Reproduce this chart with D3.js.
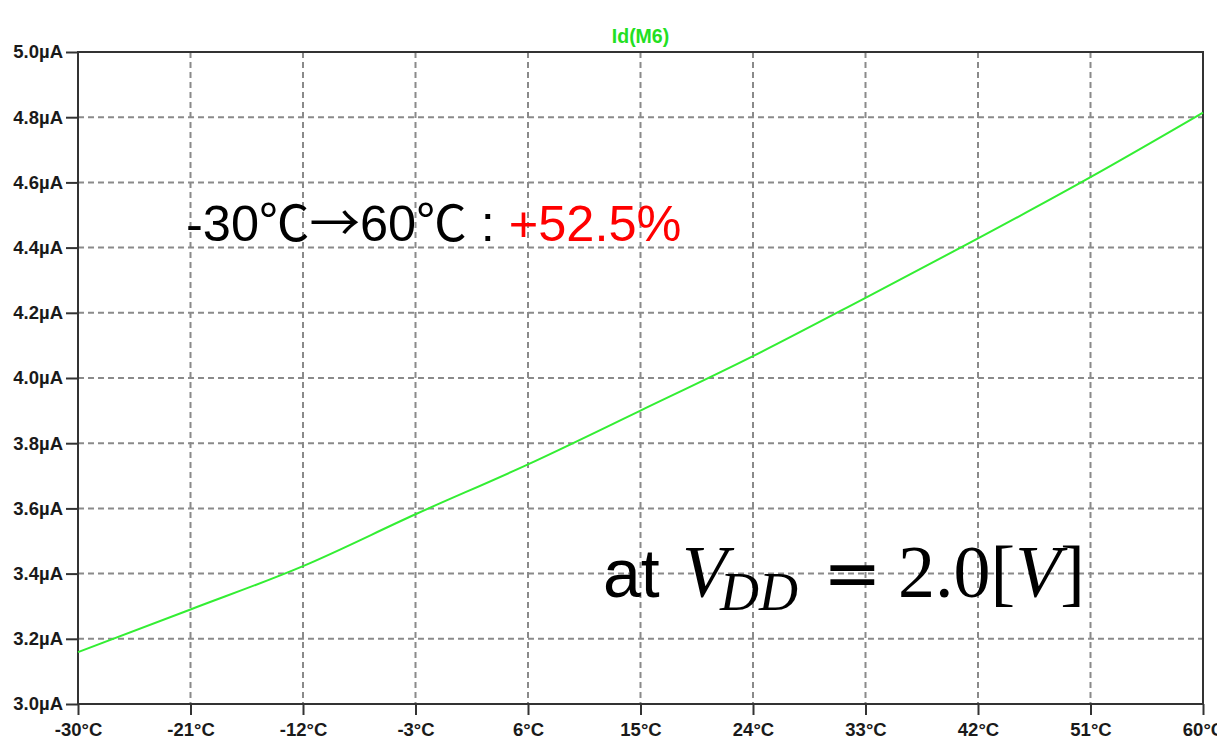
<!DOCTYPE html>
<html><head><meta charset="utf-8">
<script src="https://cdn.jsdelivr.net/npm/d3@7"></script>
<style>
html,body{margin:0;padding:0;background:#fff;}
svg{display:block;}
</style></head>
<body>
<svg id="chart" width="1217" height="749"></svg>
<script>
const temps = [-30, -21, -12, -3, 6, 15, 24, 33, 42, 51, 60];
const idM6 = [3.159, 3.290, 3.423, 3.582, 3.735, 3.900, 4.067, 4.246, 4.428, 4.616, 4.814];
const xTicks = [-30, -21, -12, -3, 6, 15, 24, 33, 42, 51, 60];
const yTicks = [3.0, 3.2, 3.4, 3.6, 3.8, 4.0, 4.2, 4.4, 4.6, 4.8, 5.0];
const traceName = "Id(M6)";

const W = 1217, H = 749;
const L = 78, R = 1203, T = 52, B = 704;
const svg = d3.select("#chart");
svg.append("rect").attr("width", W).attr("height", H).attr("fill", "#fff");

const x = d3.scaleLinear().domain([-30, 60]).range([L, R]);
const y = d3.scaleLinear().domain([3.0, 5.0]).range([B, T]);

const gridColor = "#8a8a8a";
svg.append("g").selectAll("line").data(xTicks.slice(1, -1)).join("line")
  .attr("x1", d => x(d)).attr("x2", d => x(d)).attr("y1", T).attr("y2", B)
  .attr("stroke", gridColor).attr("stroke-width", 2).attr("stroke-dasharray", "6,4");
svg.append("g").selectAll("line").data(yTicks.slice(1, -1)).join("line")
  .attr("y1", d => y(d)).attr("y2", d => y(d)).attr("x1", L).attr("x2", R)
  .attr("stroke", gridColor).attr("stroke-width", 2).attr("stroke-dasharray", "6,4");

const fontTick = "'Liberation Sans', Arial, sans-serif";
const yAxis = svg.append("g").attr("transform", `translate(${L},0)`)
  .call(d3.axisLeft(y).tickValues(yTicks).tickSize(12).tickPadding(3)
    .tickFormat(d => d.toFixed(1) + "µA"));
const xAxis = svg.append("g").attr("transform", `translate(0,${B})`)
  .call(d3.axisBottom(x).tickValues(xTicks).tickSize(11).tickPadding(8)
    .tickFormat(d => d + "°C"));
[yAxis, xAxis].forEach(g => {
  g.select(".domain").remove();
  g.selectAll(".tick line").attr("stroke", "#333").attr("stroke-width", 2);
  g.selectAll(".tick text").attr("fill", "#1a1a1a").attr("font-family", fontTick)
    .attr("font-weight", "bold").attr("font-size", 18.5);
});

svg.append("rect").attr("x", L).attr("y", T).attr("width", R - L).attr("height", B - T)
  .attr("fill", "none").attr("stroke", "#333").attr("stroke-width", 2);

const data = temps.map((t, i) => ({t, v: idM6[i]}));
svg.append("path").datum(data)
  .attr("fill", "none").attr("stroke", "#33ee33").attr("stroke-width", 2)
  .attr("d", d3.line().x(d => x(d.t)).y(d => y(d.v)).curve(d3.curveMonotoneX));

svg.append("text").attr("x", (L + R) / 2).attr("y", 43).attr("text-anchor", "middle")
  .attr("font-family", fontTick).attr("font-weight", "bold").attr("font-size", 19.5)
  .attr("fill", "#22e022").text(traceName);

// annotation 1
const a1 = svg.append("text").attr("x", 186).attr("y", 241)
  .attr("font-family", "'Liberation Sans', Arial, sans-serif").attr("font-size", 50.5).attr("fill", "#000");
const cjk = "'Noto Sans CJK JP', sans-serif";
a1.append("tspan").text("-30");
a1.append("tspan").attr("font-family", cjk).text("℃→");
a1.append("tspan").text("60");
a1.append("tspan").attr("font-family", cjk).text("℃");
a1.append("tspan").text(" : ");
a1.append("tspan").attr("fill", "#ff0000").text("+52.5%");

// annotation 2
const serif = "'Liberation Serif', 'Times New Roman', serif";
const g2 = svg.append("g").attr("fill", "#000");
const piece = (txt, px, py, fam, size, italic) => g2.append("text")
  .attr("x", px).attr("y", py).attr("font-family", fam).attr("font-size", size)
  .attr("font-style", italic ? "italic" : "normal").text(txt);
piece("at", 603, 597, "'Liberation Sans', Arial, sans-serif", 68, false);
piece("V", 682, 597, serif, 74, true);
piece("DD", 720, 610, serif, 54, true);
piece("=", 823, 597, "'DejaVu Sans', sans-serif", 70, false);
const num = g2.append("text").attr("x", 898).attr("y", 597)
  .attr("font-family", serif).attr("font-size", 74);
num.append("tspan").text("2.0[");
num.append("tspan").attr("font-style", "italic").text("V");
num.append("tspan").text("]");
</script>
</body></html>
